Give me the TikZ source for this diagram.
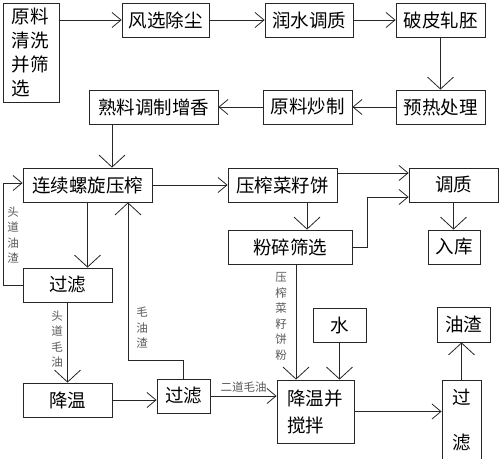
\documentclass[tikz,border=0pt]{standalone}
\usepackage{fontspec}
\setmainfont{Noto Sans CJK SC}
\usetikzlibrary{arrows.meta}

\begin{document}
\begin{tikzpicture}[x=1pt, y=-1pt,
  box/.style={draw=black!85, line width=0.8pt, inner sep=0pt, minimum height=34pt, font=\fontsize{18.5}{24}\selectfont},
  note/.style={text=black!65, inner sep=0pt, align=center, font=\fontsize{11.5}{15.5}\selectfont},
  line/.style={draw=black!85, line width=0.8pt},
  harrow/.style={line, -{Straight Barb[length=9pt,width=15pt,line width=0.8pt]}},
  varrow/.style={line, -{Straight Barb[length=12pt,width=26pt,line width=0.8pt]}}]

\useasboundingbox (0,0) rectangle (500,458);

% Top row

\node [box, minimum width=56pt, minimum height=99pt, text width=38pt, align=left] (raw) at (31,52.5) {原料\\清洗\\并筛\\选};
\node [box, minimum width=87pt] (fengxuan) at (165.5,20) {风选除尘};
\node [box, minimum width=88pt] (runshui) at (309,20) {润水调质};
\node [box, minimum width=89pt] (popi) at (440.5,20) {破皮轧胚};

% Second row
\node [box, minimum width=89pt] (yure) at (440.5,107) {预热处理};
\node [box, minimum width=89pt] (chaozhi) at (307.5,107) {原料炒制};
\node [box, minimum width=129pt] (shuliao) at (153.5,107) {熟料调制增香};

% Pressing
\node [box, minimum width=129pt] (yazha) at (87.5,185) {连续螺旋压榨};
\node [box, minimum width=109pt] (bing) at (282.5,185) {压榨菜籽饼};
\node [box, minimum width=89pt] (tiaozhi) at (453.5,185) {调质};
\node [box, minimum width=124pt] (fensui) at (290,247) {粉碎筛选};
\node [box, minimum width=52pt] (ruku) at (454,247) {入库};

% Oil
\node [box, minimum width=89pt] (guolv1) at (67.5,285) {过滤};
\node [box, minimum width=89pt] (jiangwen) at (67.5,400) {降温};
\node [box, minimum width=53pt] (guolv2) at (183.5,396) {过滤};
\node [box, minimum width=53pt] (shui) at (339.5,325) {水};
\node [box, minimum width=53pt, minimum height=35pt] (youzha) at (463.5,324.5) {油渣};
\node [box, minimum width=77pt, minimum height=63pt, text width=57pt, align=left] (jiaoban) at (315.5,411.5) {降温并\\[3pt]搅拌};
\node [box, minimum width=39pt, minimum height=80pt, align=center] (guolv3) at (461.5,420) {过\\[21pt]滤};

% Side labels
\node [note] (toudao1) at (13,235) {头\\道\\油\\渣};
\node [note] (toudao2) at (57,339) {头\\道\\毛\\油};
\node [note] (maoyou) at (142,328) {毛\\油\\渣};
\node [note] (bingfen) at (281,316.5) {压\\榨\\菜\\籽\\饼\\粉};

%Arrows
\draw [harrow] (raw.east |- fengxuan.west) -- (fengxuan.west);
\draw [harrow] (fengxuan.east) -- (runshui.west);
\draw [harrow] (runshui.east) -- (popi.west);
\draw [varrow] (popi.south) -- (yure.north);
\draw [harrow] (yure.west) -- (chaozhi.east);
\draw [harrow] (chaozhi.west) -- (shuliao.east);
\draw [varrow] ([xshift=-41.5pt]shuliao.south) -- ([xshift=24.5pt]yazha.north);

\draw [harrow] (yazha.east) -- (bing.west);
\draw [harrow] ([yshift=12pt]bing.east) -- ([yshift=12pt]tiaozhi.west);
\draw [harrow] (fensui.east) -- ++(15,0) |- ([yshift=-12pt]tiaozhi.west);
\draw [varrow] ([xshift=24.5pt]bing.south) -- ([xshift=24.5pt]bing.south |- fensui.north);
\draw [varrow] (tiaozhi.south) -- (tiaozhi.south |- ruku.north);

\draw [varrow] (yazha.south) -- (yazha.south |- guolv1.north);
\draw [harrow] (guolv1.west) -- ++(-19.5,0) |- ([yshift=2pt]yazha.west);
\draw [varrow] (guolv1.south) -- (jiangwen.north);
\draw [harrow] (jiangwen.east) -- (jiangwen.east -| guolv2.west);
\draw [varrow] (guolv2.north) -- ++(0,-18) -| ([xshift=40.5pt]yazha.south);
\draw [harrow] (guolv2.east) -- (guolv2.east -| jiaoban.west) node [note, midway, above=3pt] (erdao) {二道毛油};

\draw [varrow] ([xshift=6pt]fensui.south) -- ([xshift=6pt]fensui.south |- jiaoban.north);
\draw [varrow] (shui.south) -- (shui.south |- jiaoban.north);
\draw [harrow] (jiaoban.east) -- (jiaoban.east -| guolv3.west);
\draw [varrow] (guolv3.north) -- (guolv3.north |- youzha.south);
\end{tikzpicture}
\end{document}
